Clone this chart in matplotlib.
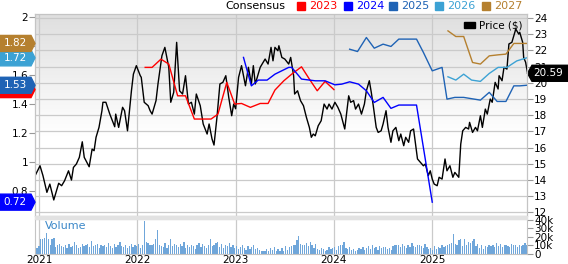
import numpy as np
import matplotlib.pyplot as plt
import matplotlib.transforms as mtransforms
from matplotlib.patches import Polygon, Rectangle

# price, decimal years
price_t = [2020.96, 2021.01, 2021.04, 2021.08, 2021.11, 2021.15, 2021.20, 2021.23, 2021.26, 2021.30,
           2021.33, 2021.35, 2021.38, 2021.41, 2021.44, 2021.46, 2021.51, 2021.54, 2021.56, 2021.58,
           2021.61, 2021.64, 2021.65, 2021.68, 2021.72, 2021.77, 2021.78, 2021.81, 2021.85, 2021.87,
           2021.90, 2021.94, 2021.96, 2021.99, 2022.03, 2022.04, 2022.07, 2022.11, 2022.13, 2022.15,
           2022.19, 2022.21, 2022.25, 2022.28, 2022.32, 2022.34, 2022.37, 2022.40, 2022.43, 2022.46,
           2022.49, 2022.52, 2022.55, 2022.58, 2022.60, 2022.64, 2022.67, 2022.71, 2022.73, 2022.76,
           2022.78, 2022.81, 2022.84, 2022.87, 2022.90, 2022.93, 2022.96, 2022.98, 2023.00, 2023.03,
           2023.06, 2023.10, 2023.13, 2023.16, 2023.18, 2023.20, 2023.25, 2023.30, 2023.33, 2023.36,
           2023.38, 2023.40, 2023.43, 2023.44, 2023.47, 2023.50, 2023.54, 2023.56, 2023.59, 2023.60,
           2023.63, 2023.66, 2023.69, 2023.72, 2023.75, 2023.77, 2023.79, 2023.81, 2023.84, 2023.87,
           2023.90, 2023.93, 2023.95, 2023.98, 2024.01, 2024.04, 2024.07, 2024.11, 2024.15, 2024.17,
           2024.20, 2024.22, 2024.25, 2024.28, 2024.31, 2024.33, 2024.36, 2024.38, 2024.40, 2024.43,
           2024.45, 2024.48, 2024.50, 2024.53, 2024.55, 2024.58, 2024.60, 2024.63, 2024.66, 2024.68,
           2024.71, 2024.73, 2024.76, 2024.78, 2024.81, 2024.83, 2024.85, 2024.88, 2024.91, 2024.93,
           2024.96, 2024.98, 2025.00, 2025.02, 2025.05, 2025.07, 2025.10, 2025.13, 2025.15, 2025.18,
           2025.21, 2025.23, 2025.27, 2025.29, 2025.31, 2025.34, 2025.37, 2025.38, 2025.41, 2025.44,
           2025.46, 2025.49, 2025.51, 2025.54, 2025.56, 2025.59, 2025.61, 2025.64, 2025.67, 2025.68,
           2025.71, 2025.73, 2025.76, 2025.78, 2025.81, 2025.83, 2025.85, 2025.88, 2025.89, 2025.92,
           2025.93, 2025.95, 2025.97]
price = [14.27, 14.88, 14.27, 13.24, 13.75, 12.77, 13.80, 13.65, 13.96, 14.57,
         14.00, 14.78, 14.99, 15.40, 16.36, 15.40, 14.82, 15.91, 15.81, 16.64,
         17.25, 18.28, 18.80, 18.80, 18.07, 17.29, 18.07, 17.25, 18.49, 18.28,
         17.04, 19.51, 20.54, 21.06, 20.44, 20.34, 18.80, 18.59, 18.28, 18.07,
         18.90, 19.93, 21.67, 22.19, 20.96, 18.80, 19.41, 22.50, 19.51, 19.31,
         20.44, 18.69, 18.80, 18.07, 19.31, 18.59, 17.46, 16.84, 17.46, 16.53,
         16.16, 17.87, 19.93, 20.03, 20.44, 19.10, 17.97, 18.69, 18.40, 20.34,
         21.06, 19.82, 20.96, 19.93, 21.06, 19.93, 20.96, 21.47, 21.16, 22.19,
         21.36, 22.19, 21.98, 22.29, 21.57, 21.47, 21.16, 21.57, 20.44, 19.31,
         19.51, 18.90, 18.59, 17.87, 17.25, 16.64, 16.84, 16.73, 17.35, 17.66,
         18.69, 18.38, 18.69, 18.38, 18.80, 18.49, 18.07, 17.15, 19.20, 18.80,
         18.90, 18.38, 18.69, 18.07, 18.69, 19.51, 20.13, 19.41, 18.59, 17.25,
         16.94, 17.04, 17.46, 18.28, 17.25, 16.33, 17.04, 17.25, 16.43, 16.84,
         16.12, 16.64, 16.33, 17.04, 17.15, 16.22, 15.30, 15.09, 14.88, 14.99,
         14.27, 14.57, 14.06, 13.75, 13.65, 14.17, 14.06, 15.30, 14.57, 14.88,
         14.17, 14.47, 14.17, 16.22, 17.04, 17.25, 17.15, 17.56, 16.94, 17.25,
         17.04, 17.97, 17.25, 18.38, 18.07, 19.00, 18.80, 20.03, 19.62, 20.44,
         20.13, 20.96, 20.85, 22.40, 22.50, 22.91, 23.32, 23.01, 23.12, 22.50,
         21.57, 21.27, 20.59]

# consensus EPS estimates
eps23_t = [2022.08, 2022.15, 2022.24, 2022.32, 2022.41, 2022.49, 2022.58, 2022.75, 2022.82, 2022.91,
           2022.99, 2023.06, 2023.15, 2023.25, 2023.33, 2023.40, 2023.49, 2023.57, 2023.67, 2023.75,
           2023.83, 2023.91, 2024.00]
eps23 = [1.654, 1.654, 1.711, 1.677, 1.457, 1.457, 1.296, 1.296, 1.330, 1.550,
         1.400, 1.404, 1.377, 1.404, 1.404, 1.497, 1.561, 1.607, 1.658, 1.573,
         1.492, 1.557, 1.500]
eps24_t = [2023.08, 2023.16, 2023.23, 2023.32, 2023.40, 2023.54, 2023.57, 2023.67, 2023.81, 2023.91,
           2024.01, 2024.08, 2024.16, 2024.25, 2024.33, 2024.41, 2024.50, 2024.58, 2024.66, 2024.84,
           2025.00]
eps24 = [1.723, 1.526, 1.566, 1.566, 1.607, 1.654, 1.654, 1.573, 1.561, 1.561,
         1.533, 1.538, 1.554, 1.538, 1.492, 1.411, 1.446, 1.370, 1.393, 1.393,
         0.72]
eps25_t = [2024.16, 2024.24, 2024.33, 2024.41, 2024.50, 2024.58, 2024.66, 2024.84, 2024.91, 2025.00,
           2025.10, 2025.15, 2025.23, 2025.32, 2025.49, 2025.58, 2025.66, 2025.75, 2025.83, 2025.89,
           2025.96]
eps25 = [1.780, 1.764, 1.861, 1.787, 1.815, 1.799, 1.850, 1.850, 1.758, 1.630,
         1.654, 1.434, 1.446, 1.446, 1.427, 1.481, 1.418, 1.418, 1.526, 1.526,
         1.53]
eps26_t = [2025.16, 2025.24, 2025.32, 2025.40, 2025.49, 2025.58, 2025.67, 2025.76, 2025.86, 2025.96]
eps26 = [1.589, 1.566, 1.607, 1.566, 1.557, 1.612, 1.654, 1.654, 1.699, 1.72]
eps27_t = [2025.16, 2025.24, 2025.32, 2025.41, 2025.49, 2025.58, 2025.67, 2025.75, 2025.83, 2025.96]
eps27 = [1.907, 1.868, 1.868, 1.688, 1.677, 1.734, 1.741, 1.746, 1.820, 1.82]

# weekly volume in thousands, from mid Dec 2020
volume = [10, 7,
          9, 18, 18, 19, 25, 18, 11, 17, 19, 8, 10, 12, 9, 8, 10, 7, 12, 8, 9, 14, 10, 7, 8, 12, 9, 10,
          12, 8, 15, 9, 10, 12, 7, 11, 9, 10, 8, 13, 9, 7, 12, 8, 10, 14, 9, 8, 11, 7, 9, 12, 8, 10,
          9, 12, 7, 10, 39, 14, 13, 11, 10, 12, 17, 28, 10, 9, 8, 13, 7, 11, 17, 9, 12, 10, 8, 12, 9, 14,
          7, 10, 8, 11, 9, 6, 10, 13, 8, 12, 9, 7, 11, 18, 9, 10, 13, 14, 8, 12, 7, 10, 9, 13, 8, 10,
          7, 9, 6, 8, 10, 7, 5, 9, 6, 8, 11, 6, 7, 5, 3, 3, 4, 6, 4, 7, 5, 8, 3, 6, 4, 7,
          3, 9, 5, 8, 9, 11, 10, 16, 21, 12, 10, 11, 13, 9, 14, 10, 7, 12, 6, 5, 7, 6, 4, 5, 8, 6,
          7, 8, 5, 9, 10, 11, 14, 7, 6, 8, 5, 6, 4, 5, 7, 6, 8, 5, 7, 9, 6, 11, 7, 8, 5, 9,
          7, 8, 8, 6, 7, 5, 9, 10, 11, 10, 8, 12, 9, 7, 10, 8, 13, 9, 8, 10, 11, 9, 7, 12, 8, 6,
          7, 5, 9, 6, 8, 7, 10, 8, 9, 11, 12, 13, 24, 12, 10, 16, 17, 9, 18, 11, 14, 13, 15, 17, 9, 12,
          7, 10, 6, 9, 8, 11, 9, 10, 8, 13, 9, 12, 8, 11, 10, 9, 8, 12, 10, 11, 8, 10, 9, 11, 13, 10]
vol_t = 2020.96 + np.arange(len(volume)) / 52.18

years = [2021, 2022, 2023, 2024, 2025]
price_ticks = list(range(12, 25))
eps_ticks = [0.8, 1, 1.2, 1.4, 1.6, 1.8, 2]
eps_labels = ['0.8', '1', '1.2', '1.4', '1.6', '1.8', '2']

c23, c24, c25, c26, c27 = '#ff0000', '#0000ff', '#1f63b5', '#3ca2d4', '#b5802f'
grid_c = '#cacaca'

W, H = 568, 264
fig = plt.figure(figsize=(W / 100, H / 100), dpi=100)


def fx(px):
    return px / W


def fy(py):
    return 1 - py / H


L, R = 35, 527
ax = fig.add_axes([fx(L), fy(216), fx(R) - fx(L), fy(14) - fy(216)])
axv = fig.add_axes([fx(L), fy(254), fx(R) - fx(L), fy(219) - fy(254)])
xlim = (2020.959, 2025.964)
plim = (11.78, 24.25)
ax.set_xlim(xlim)
ax.set_ylim(plim)

# gray gradient background, fading to white towards the bottom
s = np.linspace(0, 1, 200)
g = np.clip(0.875 + 0.125 * s / 0.6, 0, 1)
img = np.repeat(np.dstack([g, g, g]).reshape(200, 1, 3), 2, axis=1)
ax.imshow(img, extent=[xlim[0], xlim[1], plim[0], plim[1]], origin='upper',
          aspect='auto', zorder=0, interpolation='bilinear')

for p in price_ticks:
    ax.axhline(p, color=grid_c, lw=0.9, zorder=1)
for y in years:
    ax.axvline(y, color=grid_c, lw=0.9, zorder=1)
    axv.axvline(y, color=grid_c, lw=0.9, zorder=0)

ax.plot(price_t, price, color='black', lw=1, zorder=3)
ax.set_xlim(xlim)
ax.set_ylim(plim)

ax2 = ax.twinx()
ax2.plot(eps23_t, eps23, color=c23, lw=1)
ax2.plot(eps24_t, eps24, color=c24, lw=1)
ax2.plot(eps25_t, eps25, color=c25, lw=1)
ax2.plot(eps26_t, eps26, color=c26, lw=1)
ax2.plot(eps27_t, eps27, color=c27, lw=1)
ax2.set_xlim(xlim)
ax2.set_ylim(0.624, 2.024)

# price on the right, EPS on the left
ax.yaxis.tick_right()
ax.set_yticks(price_ticks)
ax.tick_params(axis='y', labelsize=7.5, length=4, width=0.8, color='#999999', pad=1)
ax.tick_params(axis='x', bottom=False, labelbottom=False)
ax2.yaxis.tick_left()
ax2.set_yticks(eps_ticks)
ax2.set_yticklabels(eps_labels)
ax2.tick_params(axis='y', labelsize=7.5, length=4, width=0.8, color='#999999', pad=1)

axv.bar(vol_t, volume, width=0.013, color='#6fa6da', zorder=2)
axv.set_xlim(xlim)
axv.set_ylim(0, 41)
axv.yaxis.tick_right()
axv.set_yticks([0, 10, 20, 30, 40])
axv.set_yticklabels(['0', '10k', '20k', '30k', '40k'])
axv.set_xticks(years)
axv.set_xticklabels([str(y) for y in years])
axv.tick_params(axis='y', labelsize=7.5, length=4, width=0.8, color='#999999', pad=1)
axv.tick_params(axis='x', labelsize=7.5, length=0, pad=1)
axv.text(0.02, 0.72, 'Volume', transform=axv.transAxes, color='#3a87c8', fontsize=8)

for a in (ax, ax2, axv):
    for sp in a.spines.values():
        sp.set_color('#c4c4c4')
        sp.set_linewidth(0.8)

# separator band between panels
fig.patches.append(Rectangle((fx(L), fy(219)), fx(R) - fx(L), fy(216) - fy(219),
                             transform=fig.transFigure, color='#e2e2e2', zorder=0))

# left value tags (later ones drawn on top)
tr_l = mtransforms.blended_transform_factory(ax2.transAxes, ax2.transData)
pw = 1 / (R - L)
hh = 8 / 144.4
for i, (val, col) in enumerate([(1.50, c23), (1.53, c25), (1.72, c26), (1.82, c27), (0.72, c24)]):
    pts = [(-35 * pw, val - hh), (-4 * pw, val - hh), (0, val), (-4 * pw, val + hh), (-35 * pw, val + hh)]
    ax2.add_patch(Polygon(pts, closed=True, transform=tr_l, color=col, clip_on=False, zorder=10 + 2 * i))
    ax2.text(-20 * pw, val, f'{val:.2f}', transform=tr_l, color='white', fontsize=7.5,
             ha='center', va='center', clip_on=False, zorder=11 + 2 * i)

# right price tag
tr_r = mtransforms.blended_transform_factory(ax.transAxes, ax.transData)
last = price[-1]
ph = 8 / 16.2
pts = [(1 + 0.5 * pw, last), (1 + 5 * pw, last - ph), (1 + 42 * pw, last - ph),
       (1 + 42 * pw, last + ph), (1 + 5 * pw, last + ph)]
ax.add_patch(Polygon(pts, closed=True, transform=tr_r, color='black', clip_on=False, zorder=10))
ax.text(1 + 21 * pw, last, f'{last:.2f}', transform=tr_r, color='white', fontsize=7.5,
        ha='center', va='center', clip_on=False, zorder=11)

# top legend
fig.text(fx(225), fy(6), 'Consensus', fontsize=8, va='center', ha='left')
for x0, lab, col in [(297, '2023', c23), (344, '2024', c24), (389, '2025', c25),
                     (435, '2026', c26), (482, '2027', c27)]:
    fig.patches.append(Rectangle((fx(x0), fy(10)), 8 / W, 8 / H, transform=fig.transFigure, color=col))
    fig.text(fx(x0 + 12), fy(6), lab, fontsize=8, va='center', ha='left', color=col)

fig.patches.append(Rectangle((fx(464), fy(28)), 11 / W, 6 / H, transform=fig.transFigure, color='black'))
fig.text(fx(479), fy(25), 'Price ($)', fontsize=7.5, va='center', ha='left')

fig.savefig('out.png', dpi=100)
